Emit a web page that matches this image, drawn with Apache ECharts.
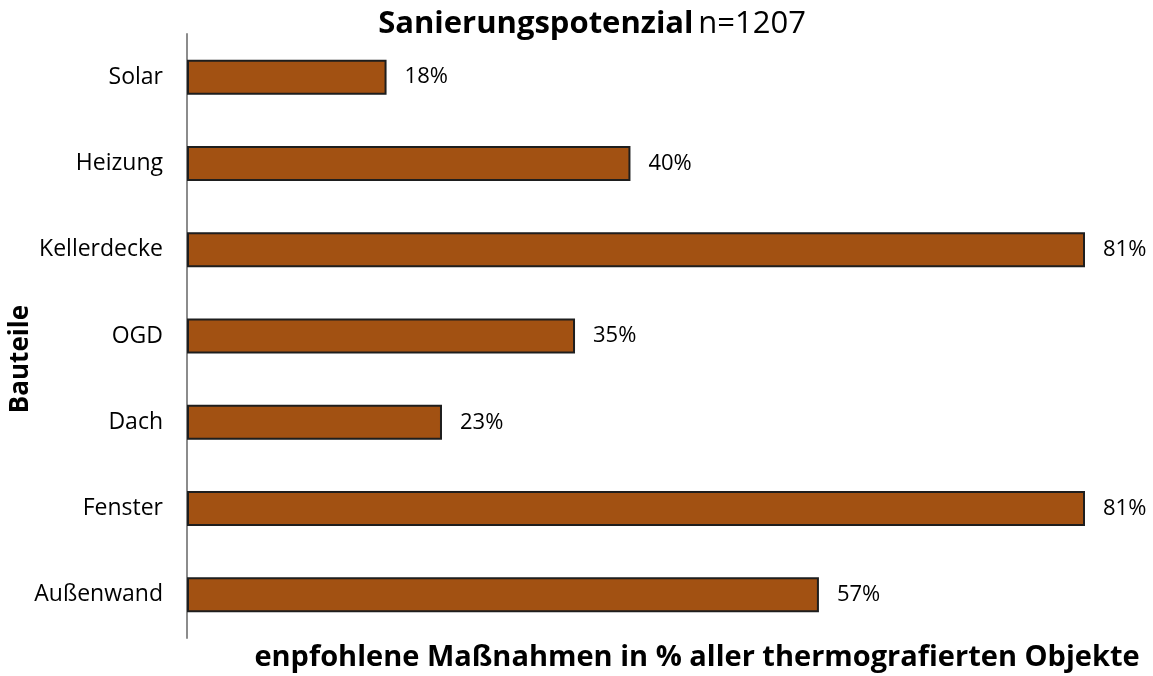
<!DOCTYPE html>
<html>
<head>
<meta charset="utf-8">
<script src="https://cdn.jsdelivr.net/npm/echarts@6/dist/echarts.min.js"></script>
<style>
  html, body { margin: 0; padding: 0; background: #fff; }
  #chart { width: 1153px; height: 676px; }
</style>
</head>
<body>
<div id="chart"></div>
<script>
// Bauteile from bottom to top (category axis starts at the bottom)
const categories = ['Außenwand', 'Fenster', 'Dach', 'OGD', 'Kellerdecke', 'Heizung', 'Solar']
const values = [57, 81, 23, 35, 81, 40, 18]

const chart = echarts.init(document.getElementById('chart'))
const font = '"Open Sans", "Liberation Sans", sans-serif'

chart.setOption({
  backgroundColor: '#ffffff',
  animation: false,
  textStyle: { fontFamily: font },
  title: {
    text: '{b|Sanierungspotenzial} {n|n=1207}',
    left: 587,
    top: 4,
    textAlign: 'center',
    textStyle: {
      rich: {
        b: { fontFamily: font, fontSize: 31, fontWeight: 'bold', color: '#000' },
        n: { fontFamily: font, fontSize: 31, fontWeight: 'normal', color: '#000' }
      }
    }
  },
  grid: {
    left: 187,
    top: 34,
    width: 898,
    height: 604,
    outerBoundsMode: 'none',
    containLabel: false
  },
  graphic: [{
    type: 'text',
    left: 8,
    top: 305,
    rotation: Math.PI / 2,
    style: {
      text: 'Bauteile',
      font: 'bold 26px "Open Sans", sans-serif',
      fill: '#000'
    }
  }],
  xAxis: {
    type: 'value',
    min: 0,
    max: 81,
    axisLine: { show: false },
    axisTick: { show: false },
    axisLabel: { show: false },
    splitLine: { show: false },
    name: 'enpfohlene Maßnahmen in % aller thermografierten Objekte',
    nameLocation: 'middle',
    nameGap: 5,
    nameTextStyle: {
      fontFamily: font, fontSize: 29, fontWeight: 'bold', color: '#000',
      padding: [0, 0, 0, 122]
    }
  },
  yAxis: {
    type: 'category',
    data: categories,
    axisLine: { show: true, lineStyle: { color: '#8c8c8c', width: 2 } },
    axisTick: { show: false },
    axisLabel: { fontFamily: font, fontSize: 23, color: '#000', margin: 24 },
  },
  series: [{
    type: 'bar',
    data: values,
    barWidth: 35,
    itemStyle: { color: '#a25112', borderColor: '#1e1e1e', borderWidth: 2 },
    label: {
      show: true,
      position: 'right',
      distance: 18,
      formatter: '{c}%',
      fontFamily: font,
      fontSize: 22,
      color: '#000'
    }
  }]
})
</script>
</body>
</html>
